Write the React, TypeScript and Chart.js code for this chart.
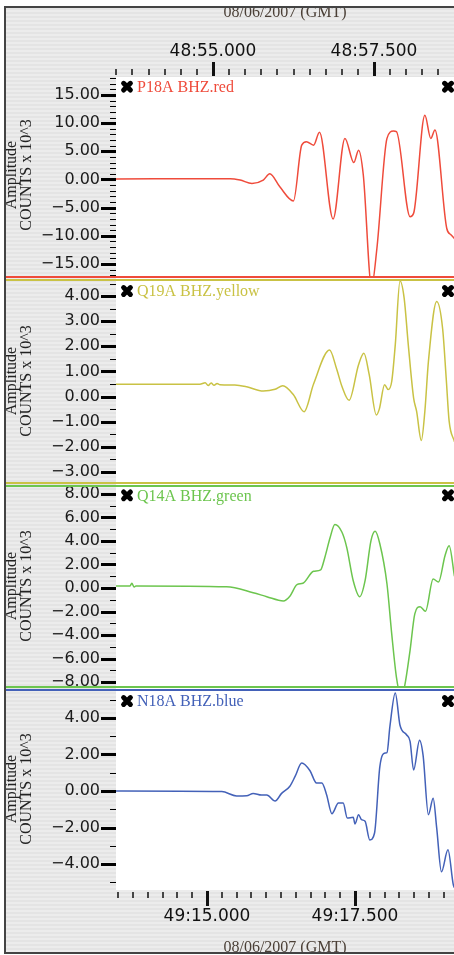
import React, { useEffect, useRef } from 'react';
import { Chart, registerables } from 'chart.js';

Chart.register(...registerables);

const W = 454;
const H = 955;

// ---- data (time in seconds past the minute of the bottom axis, amplitude in COUNTS x 10^3) ----
const redTimes = [13.46, 15.39, 15.56, 15.76, 15.95, 16.06, 16.23, 16.46, 16.60, 16.68, 16.80, 16.90, 17.13, 17.33, 17.48, 17.56, 17.64, 17.78, 17.87, 18.04, 18.15, 18.20, 18.43, 18.49, 18.68, 18.78, 18.85, 19.05, 19.12, 19.18];
const redValues = [0.1, 0.15, -0.1, -0.7, -0.1, 1.0, -1.3, -3.8, 6.1, 6.7, 6.1, 8.4, -7.0, 7.3, 3.0, 5.2, 0.8, -19, -12.2, 7.3, 8.6, 8.5, -6.6, -6.0, 11.4, 7.3, 8.8, -8.7, -9.8, -10.5];

const yellowTimes = [13.46, 14.88, 14.97, 15.02, 15.07, 15.12, 15.17, 15.22, 15.47, 15.67, 15.95, 16.15, 16.28, 16.46, 16.64, 16.80, 17.07, 17.19, 17.28, 17.40, 17.56, 17.65, 17.74, 17.86, 17.91, 18.00, 18.06, 18.12, 18.18, 18.26, 18.33, 18.40, 18.49, 18.54, 18.62, 18.68, 18.74, 18.88, 18.98, 19.04, 19.09, 19.18];
const yellowValues = [0.49, 0.49, 0.55, 0.44, 0.54, 0.45, 0.52, 0.47, 0.46, 0.39, 0.22, 0.29, 0.43, 0.07, -0.6, 0.5, 1.85, 1.1, 0.4, -0.15, 1.27, 1.72, 0.87, -0.73, -0.5, 0.47, 0.28, 0.6, 2.06, 4.6, 3.92, 2.06, -0.06, -0.58, -1.75, -0.58, 1.4, 3.78, 2.7, 0.74, -0.98, -1.8];

const greenTimes = [13.46, 13.70, 13.73, 13.77, 13.80, 15.33, 15.78, 16.01, 16.29, 16.40, 16.52, 16.62, 16.80, 16.92, 16.99, 17.08, 17.16, 17.28, 17.36, 17.47, 17.58, 17.67, 17.77, 17.84, 17.92, 18.04, 18.12, 18.20, 18.28, 18.34, 18.43, 18.51, 18.60, 18.69, 18.82, 18.91, 19.02, 19.09, 19.18];
const greenValues = [0.17, 0.17, 0.4, 0.08, 0.17, 0.1, -0.4, -0.74, -1.1, -0.7, 0.28, 0.4, 1.42, 1.55, 2.6, 4.3, 5.4, 4.74, 3.46, 0.62, -0.74, 0.62, 4.03, 4.82, 3.74, 0.34, -3.9, -7.6, -9.3, -8.3, -5.3, -2.2, -1.59, -1.98, 0.77, 0.5, 2.75, 3.6, 1.0];

const blueTimes = [13.46, 15.25, 15.50, 15.67, 15.78, 15.92, 16.01, 16.15, 16.26, 16.40, 16.49, 16.60, 16.74, 16.85, 16.94, 17.02, 17.11, 17.22, 17.30, 17.37, 17.47, 17.50, 17.56, 17.61, 17.67, 17.75, 17.83, 17.92, 18.01, 18.04, 18.09, 18.18, 18.26, 18.37, 18.43, 18.49, 18.59, 18.65, 18.74, 18.82, 18.88, 18.96, 19.07, 19.16, 19.18];
const blueValues = [0.0, -0.03, -0.27, -0.26, -0.13, -0.22, -0.22, -0.55, -0.13, 0.26, 0.81, 1.53, 1.11, 0.44, 0.44, -0.2, -1.24, -0.66, -0.66, -1.48, -1.44, -1.8, -1.3, -1.57, -1.66, -2.68, -2.3, 1.35, 2.08, 2.1, 3.55, 5.37, 3.6, 3.08, 2.72, 1.15, 2.78, 1.95, -1.3, -0.39, -2.03, -4.42, -3.22, -5.13, -5.3];

const panelNames = ['P18A BHZ.red', 'Q19A BHZ.yellow', 'Q14A BHZ.green', 'N18A BHZ.blue'];
const panelRanges = [[-17.49, 18.2], [-3.48, 4.72], [-8.51, 8.85], [-5.42, 5.64]];
const minorSteps = [1, 0.5, 1, 1];
const majorSteps = [5, 1, 2, 2];
const yTitleLines = ['Amplitude', 'COUNTS x 10^3'];
const dateTitle = '08/06/2007 (GMT)';
const topMinute = '48';
const bottomMinute = '49';
const topRange = [53.494, 58.742];
const bottomRange = [13.463, 19.172];
const timeMinorStep = 0.25;
const timeMajorStep = 2.5;

// ---- styles / layout ----
const seriesColors = ['#ef4b3b', '#c9c244', '#6cc54e', '#4361b8'];
const panelWeights = [201, 206, 204, 202];
const labelOffsets = [15, 18, 17, 18];
const crossOffsets = [9.7, 13, 11.3, 13];
const panelIds = ['y1', 'y2', 'y3', 'y4'];

function isMultiple(v: number, step: number) {
  const r = v / step;
  return Math.abs(r - Math.round(r)) < 1e-6;
}
function fmtY(v: number) {
  return (v < 0 ? '\u2212' : '') + Math.abs(v).toFixed(2);
}
function fmtTime(minute: string, v: number) {
  const s = v.toFixed(3);
  return minute + ':' + (v < 10 ? '0' + s : s);
}

function drawCross(ctx: CanvasRenderingContext2D, cx: number, cy: number) {
  ctx.save();
  ctx.strokeStyle = '#000';
  ctx.lineWidth = 5;
  ctx.lineCap = 'round';
  ctx.beginPath();
  ctx.moveTo(cx - 3.4, cy - 3.4);
  ctx.lineTo(cx + 3.4, cy + 3.4);
  ctx.moveTo(cx + 3.4, cy - 3.4);
  ctx.lineTo(cx - 3.4, cy + 3.4);
  ctx.stroke();
  ctx.restore();
}

function zeroPadding(s: any) {
  s.paddingLeft = 0;
  s.paddingRight = 0;
  s.paddingTop = 0;
  s.paddingBottom = 0;
}

const decor = {
  id: 'decor',
  beforeDraw(chart: any) {
    const { ctx, chartArea: ca } = chart;
    ctx.save();
    ctx.fillStyle = '#ececec';
    ctx.fillRect(0, 0, W, H);
    ctx.fillStyle = '#e4e4e4';
    for (let y = 0; y < H; y += 4) ctx.fillRect(0, y, W, 2);
    ctx.fillStyle = '#ffffff';
    ctx.fillRect(ca.left, ca.top, ca.right - ca.left, ca.bottom - ca.top);
    ctx.restore();
  },
  beforeDatasetDraw(chart: any, args: any) {
    const ctx = chart.ctx;
    const ys = args.meta.yScale;
    const ca = chart.chartArea;
    ctx.save();
    ctx.beginPath();
    ctx.rect(ca.left, ys.top, ca.right - ca.left, ys.bottom - ys.top);
    ctx.clip();
  },
  afterDatasetDraw(chart: any) {
    chart.ctx.restore();
  },
  afterDraw(chart: any) {
    const ctx: CanvasRenderingContext2D = chart.ctx;
    const ca = chart.chartArea;
    ctx.save();
    panelIds.forEach((id, i) => {
      const s = chart.scales[id];
      const top = Math.round(s.top);
      const bottom = Math.round(s.bottom);
      // separators
      ctx.fillStyle = seriesColors[i];
      if (i > 0) ctx.fillRect(5, top + 1, W - 5, 2);
      if (i < panelIds.length - 1) ctx.fillRect(5, bottom - 2, W - 5, 2);
      // y tick marks
      ctx.fillStyle = '#000';
      s.ticks.forEach((t: any) => {
        const p = Math.round(s.getPixelForValue(t.value));
        if (isMultiple(t.value, majorSteps[i])) ctx.fillRect(ca.left - 15, p - 1, 15, 3);
        else ctx.fillRect(ca.left - 6, p, 6, 1);
      });
      // panel label and markers
      ctx.font = '16px "Liberation Serif"';
      ctx.textAlign = 'left';
      ctx.textBaseline = 'alphabetic';
      ctx.fillStyle = seriesColors[i];
      ctx.fillText(panelNames[i], 137, top + labelOffsets[i]);
      drawCross(ctx, 127, top + crossOffsets[i]);
      drawCross(ctx, 448, top + crossOffsets[i]);
      // y titles
      const cy = (top + bottom) / 2 - (i === 0 ? 2.5 : 0);
      ctx.fillStyle = '#222';
      ctx.textAlign = 'center';
      ctx.textBaseline = 'middle';
      [12, 26.5].forEach((x, k) => {
        ctx.save();
        ctx.translate(x, cy);
        ctx.rotate(-Math.PI / 2);
        ctx.fillText(yTitleLines[k], 0, 0);
        ctx.restore();
      });
    });
    // x tick marks
    ctx.fillStyle = '#111';
    const bx = chart.scales.x;
    bx.ticks.forEach((t: any) => {
      const p = Math.round(bx.getPixelForValue(t.value));
      if (isMultiple(t.value, timeMajorStep)) ctx.fillRect(p - 1, ca.bottom + 1, 3, 15);
      else ctx.fillRect(p - 0.75, ca.bottom + 2, 1.5, 6);
    });
    const tx = chart.scales.xTop;
    tx.ticks.forEach((t: any) => {
      const p = Math.round(tx.getPixelForValue(t.value));
      if (isMultiple(t.value, timeMajorStep)) ctx.fillRect(p - 1, ca.top - 15, 3, 14);
      else ctx.fillRect(p - 0.75, ca.top - 8, 1.5, 6);
    });
    // outer frame
    ctx.fillStyle = '#ffffff';
    ctx.fillRect(0, 0, W, 6);
    ctx.fillRect(0, 0, 4, H);
    ctx.fillRect(0, 954, W, 1);
    ctx.fillStyle = '#444';
    ctx.fillRect(4, 6, W - 4, 2);
    ctx.fillRect(4, 6, 2, 948);
    ctx.fillRect(4, 952, W - 4, 2);
    ctx.restore();
  },
};

export default function App() {
  const ref = useRef<HTMLCanvasElement>(null);
  useEffect(() => {
    const canvas = ref.current;
    if (!canvas) return;
    const series = [
      [redTimes, redValues],
      [yellowTimes, yellowValues],
      [greenTimes, greenValues],
      [blueTimes, blueValues],
    ];
    const datasets = series.map(([ts, vs], i) => ({
      label: panelNames[i],
      data: ts.map((t, k) => ({ x: t, y: vs[k] })),
      xAxisID: 'x',
      yAxisID: panelIds[i],
      borderColor: seriesColors[i],
      borderWidth: 1.5,
      pointRadius: 0,
      fill: false,
      cubicInterpolationMode: 'monotone' as const,
    }));

    const timeAxis = (position: string, range: number[], minute: string, padding: number, titlePad: any, height: number) => ({
      type: 'linear',
      position,
      min: range[0],
      max: range[1],
      grid: { display: false, drawTicks: false },
      border: { display: false },
      ticks: {
        stepSize: timeMinorStep,
        includeBounds: false,
        autoSkip: false,
        maxRotation: 0,
        minRotation: 0,
        padding,
        color: '#111',
        font: { family: 'DejaVu Sans', size: 17 },
        callback: (v: number) => (isMultiple(v, timeMajorStep) ? fmtTime(minute, v) : ''),
      },
      title: {
        display: true,
        text: dateTitle,
        color: '#4a3f36',
        font: { family: 'Liberation Serif', size: 16 },
        padding: titlePad,
      },
      afterFit: (s: any) => {
        s.height = height;
        zeroPadding(s);
      },
    });

    const scales: any = {
      x: timeAxis('bottom', bottomRange, bottomMinute, 16.5, { top: 0, bottom: -2 }, 65),
      xTop: timeAxis('top', topRange, topMinute, 15, { top: 3, bottom: 0 }, 77),
    };
    panelIds.forEach((id, i) => {
      scales[id] = {
        type: 'linear',
        position: 'left',
        stack: 'panels',
        stackWeight: panelWeights[i],
        weight: panelIds.length - i,
        min: panelRanges[i][0],
        max: panelRanges[i][1],
        grid: { display: false, drawTicks: false },
        border: { display: false },
        ticks: {
          stepSize: minorSteps[i],
          includeBounds: false,
          autoSkip: false,
          padding: 16,
          color: '#1a1a1a',
          font: { family: 'DejaVu Sans', size: 16 },
          callback: (v: number) => (isMultiple(v, majorSteps[i]) ? fmtY(v) : ''),
        },
        afterFit: (s: any) => {
          s.width = 116;
          zeroPadding(s);
        },
      };
    });

    const chart = new Chart(canvas, {
      type: 'line',
      data: { datasets },
      options: {
        responsive: false,
        maintainAspectRatio: false,
        animation: false,
        devicePixelRatio: 1,
        layout: { padding: 0, autoPadding: false },
        plugins: { legend: { display: false }, tooltip: { enabled: false } },
        events: [],
        scales,
      } as any,
      plugins: [decor],
    });
    return () => chart.destroy();
  }, []);

  return (
    <div style={{ position: 'absolute', left: 0, top: 0, width: W, height: H }}>
      <canvas ref={ref} width={W} height={H} style={{ display: 'block', width: W, height: H }} />
    </div>
  );
}
